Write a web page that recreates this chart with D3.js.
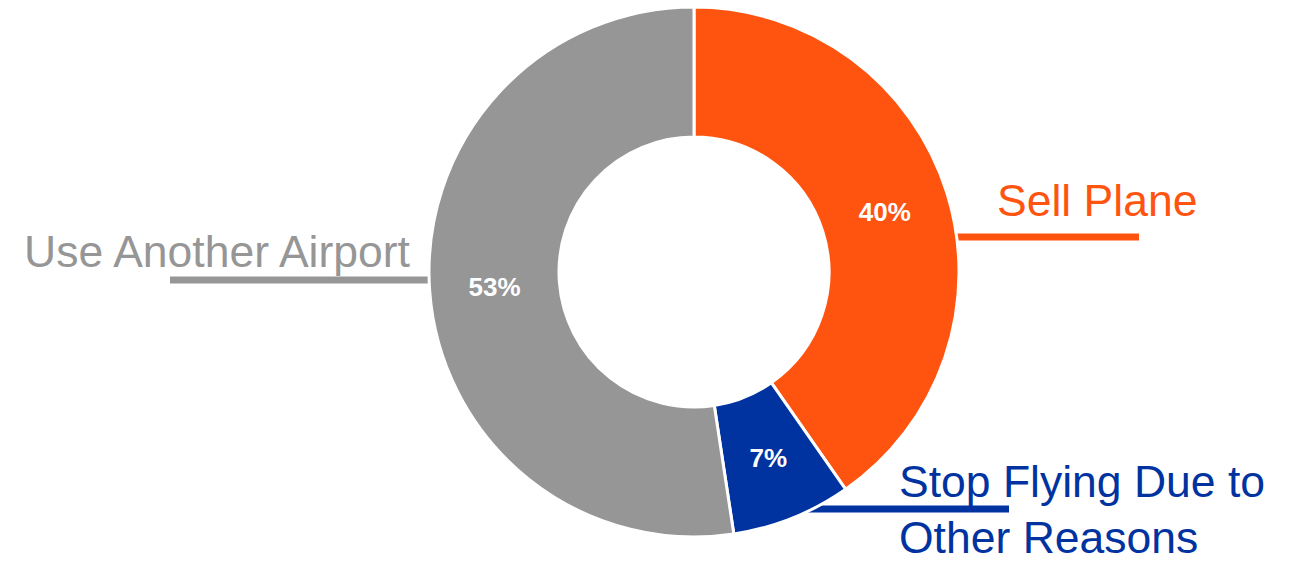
<!DOCTYPE html>
<html>
<head>
<meta charset="utf-8">
<script src="https://cdn.jsdelivr.net/npm/d3@7"></script>
<style>
  body { margin: 0; background: #fff; }
  svg { display: block; }
</style>
</head>
<body>
<div id="chart"></div>
<script>
// data
const categories = ["Sell Plane", "Stop Flying Due to Other Reasons", "Use Another Airport"];
const values = [40.3, 7.3, 52.4];
const pctLabels = ["40%", "7%", "53%"];
const labelLines = [["Sell Plane"], ["Stop Flying Due to", "Other Reasons"], ["Use Another Airport"]];
const colors = ["#FF5410", "#0033A0", "#969696"];

const width = 1291, height = 561;
const cx = 694, cy = 272;
const outerR = 265, innerR = 135;

// leader line + label placement (layout only)
const callouts = [
  { lineY: 237, x0: 900, x1: 1139, tx: 997, ty: 216, anchor: "start" },
  { lineY: 509, x0: 790, x1: 1009, tx: 899, ty: 497, anchor: "start" },
  { lineY: 280, x0: 480, x1: 170, tx: 410, ty: 267, anchor: "end" }
];

const svg = d3.select("#chart").append("svg")
  .attr("width", width)
  .attr("height", height);

// leader lines go first so the slices cover their inner ends
const lineLayer = svg.append("g");
const g = svg.append("g").attr("transform", `translate(${cx},${cy})`);

const pie = d3.pie().sort(null).value(d => d);
const arcs = pie(values);
const arc = d3.arc().innerRadius(innerR).outerRadius(outerR);

lineLayer.selectAll(".leader")
  .data(arcs)
  .enter()
  .append("line")
  .attr("class", "leader")
  .attr("x1", (d, i) => callouts[i].x0)
  .attr("x2", (d, i) => callouts[i].x1)
  .attr("y1", (d, i) => callouts[i].lineY)
  .attr("y2", (d, i) => callouts[i].lineY)
  .attr("stroke", (d, i) => colors[i])
  .attr("stroke-width", 7);

g.selectAll(".slice")
  .data(arcs)
  .enter()
  .append("path")
  .attr("class", "slice")
  .attr("d", arc)
  .attr("fill", (d, i) => colors[i])
  .attr("stroke", "#fff")
  .attr("stroke-width", 3);

g.selectAll(".pct")
  .data(arcs)
  .enter()
  .append("text")
  .attr("class", "pct")
  .attr("transform", d => `translate(${arc.centroid(d)})`)
  .attr("text-anchor", "middle")
  .attr("dy", "0.36em")
  .style("font-family", "'Liberation Sans', Arial, sans-serif")
  .style("font-weight", "bold")
  .style("font-size", "26px")
  .style("fill", "#fff")
  .text((d, i) => pctLabels[i]);

const labels = svg.selectAll(".cat")
  .data(arcs)
  .enter()
  .append("text")
  .attr("class", "cat")
  .attr("x", (d, i) => callouts[i].tx)
  .attr("y", (d, i) => callouts[i].ty)
  .attr("text-anchor", (d, i) => callouts[i].anchor)
  .style("font-family", "'Liberation Sans', Arial, sans-serif")
  .style("font-size", "44.5px")
  .style("fill", (d, i) => colors[i]);

labels.each(function (d, i) {
  const t = d3.select(this);
  labelLines[i].forEach((line, j) => {
    t.append("tspan")
      .attr("x", callouts[i].tx)
      .attr("dy", j === 0 ? 0 : 56)
      .text(line);
  });
});
</script>
</body>
</html>
